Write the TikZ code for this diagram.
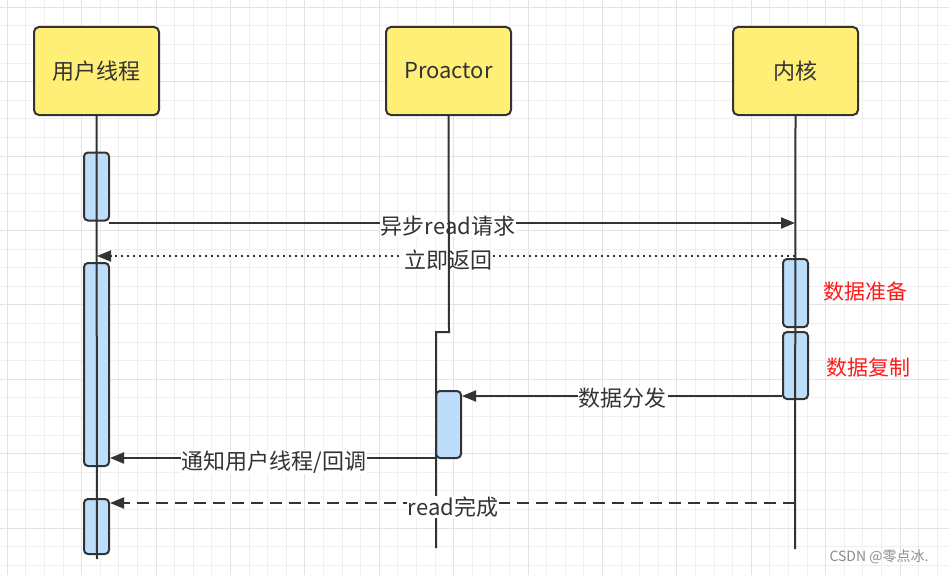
\documentclass[tikz,border=0pt]{standalone}
\usepackage{fontspec}
\setmainfont{Noto Sans CJK SC}
\usetikzlibrary{arrows.meta}
\definecolor{ink}{HTML}{333333}
\definecolor{boxy}{HTML}{FFEF77}
\definecolor{actb}{HTML}{BDDEFA}
\definecolor{gridminor}{HTML}{EFEFEF}
\definecolor{gridmajor}{HTML}{E3E3E3}
\definecolor{redtxt}{HTML}{FF1A1A}
\begin{document}
\begin{tikzpicture}[x=1pt,y=-1pt,
 actor/.style={draw=ink, line width=2pt, fill=boxy, rounded corners=5pt, minimum width=125pt, minimum height=88pt, font=\fontsize{22}{26}\selectfont, text=ink, inner sep=0pt},
 act/.style={draw=ink, line width=2pt, fill=actb, rounded corners=4pt, minimum width=25pt, inner sep=0pt},
 life/.style={draw=ink, line width=2pt},
 msg/.style={draw=ink, line width=2pt, -{Triangle[length=14pt,width=11pt]}},
 lbl/.style={fill=white, inner sep=1pt, text=ink, font=\fontsize{22}{26}\selectfont},
 note/.style={text=redtxt, font=\fontsize{21}{24}\selectfont, inner sep=0pt},
 wmark/.style={text=black!45, font=\fontsize{14}{16}\selectfont, inner sep=0pt}]
\useasboundingbox (0,0) rectangle (949,575);
\fill[white] (0,0) rectangle (949,575);
\begin{scope}
\clip (0,0) rectangle (949,575);
\foreach \i in {0,...,51} {\draw[gridminor, line width=1pt] ({7.3+18.6*\i},0) -- ({7.3+18.6*\i},575);}
\foreach \j in {0,...,31} {\draw[gridminor, line width=1pt] (0,{7.3+18.6*\j}) -- (949,{7.3+18.6*\j});}
\foreach \i in {0,4,...,48} {\draw[gridmajor, line width=1pt] ({7.3+18.6*\i},0) -- ({7.3+18.6*\i},575);}
\foreach \j in {0,4,...,28} {\draw[gridmajor, line width=1pt] (0,{7.3+18.6*\j}) -- (949,{7.3+18.6*\j});}
\end{scope}

% actors
\node[actor] (u) at (96.5,71) {用户线程};
\node[actor] (p) at (448.5,71) {Proactor};
\node[actor] (k) at (795.5,71) {内核};

% activation bars
\node[act, minimum height=68pt] (a1) at (96.5,186.5) {};
\node[act, minimum height=203pt] (a2) at (96.5,364.5) {};
\node[act, minimum height=55pt] (a3) at (96.5,526.5) {};
\node[act, minimum height=68pt] (k1) at (795.5,293) {};
\node[act, minimum height=67pt] (k2) at (795.5,365.5) {};
\node[act, minimum height=67pt] (pa) at (448.5,424.5) {};

% lifeline end points
\coordinate (uend) at (97,559);
\coordinate (pjog1) at (449,332);
\coordinate (pjog2) at (436,332);
\coordinate (pend) at (436,548);
\coordinate (kend) at (795,549);

% message 1 and 2
\coordinate (m1s) at (109,223);
\coordinate (m1e) at (795,223);
\draw[msg] (m1s) -- (m1e);
\node[lbl] (l1) at (448,226) {异步read请求};
\coordinate (m2s) at (795,256);
\coordinate (m2e) at (97,256);
\draw[msg, dash pattern=on 2pt off 4pt] (m2s) -- (m2e);
\node[lbl] (l2) at (448,260) {立即返回};

% lifelines
\draw[life] (u.south) -- (uend);
\draw[life] (p.south) -- (pjog1) -- (pjog2) -- (pend);
\draw[life] (k.south) -- (kend);

% message 3
\draw[msg] (k2.west |- 0,396) -- (pa.east |- 0,396);
\node[lbl] (l3) at (622.5,398) {数据分发};
% message 4
\draw[msg] (pa.west |- 0,458) -- (a2.east |- 0,458);
\node[lbl] (l4) at (274,462) {通知用户线程/回调};
% message 5
\draw[msg, dash pattern=on 12pt off 7pt] (kend |- 0,503) -- (a3.east |- 0,503);
\node[lbl] (l5) at (453,507) {read完成};

% notes
\node[note] (n1) at (865,292) {数据准备};
\node[note] (n2) at (868,368) {数据复制};
\node[wmark] (wm) at (879,557) {CSDN @零点冰.};
\end{tikzpicture}
\end{document}
